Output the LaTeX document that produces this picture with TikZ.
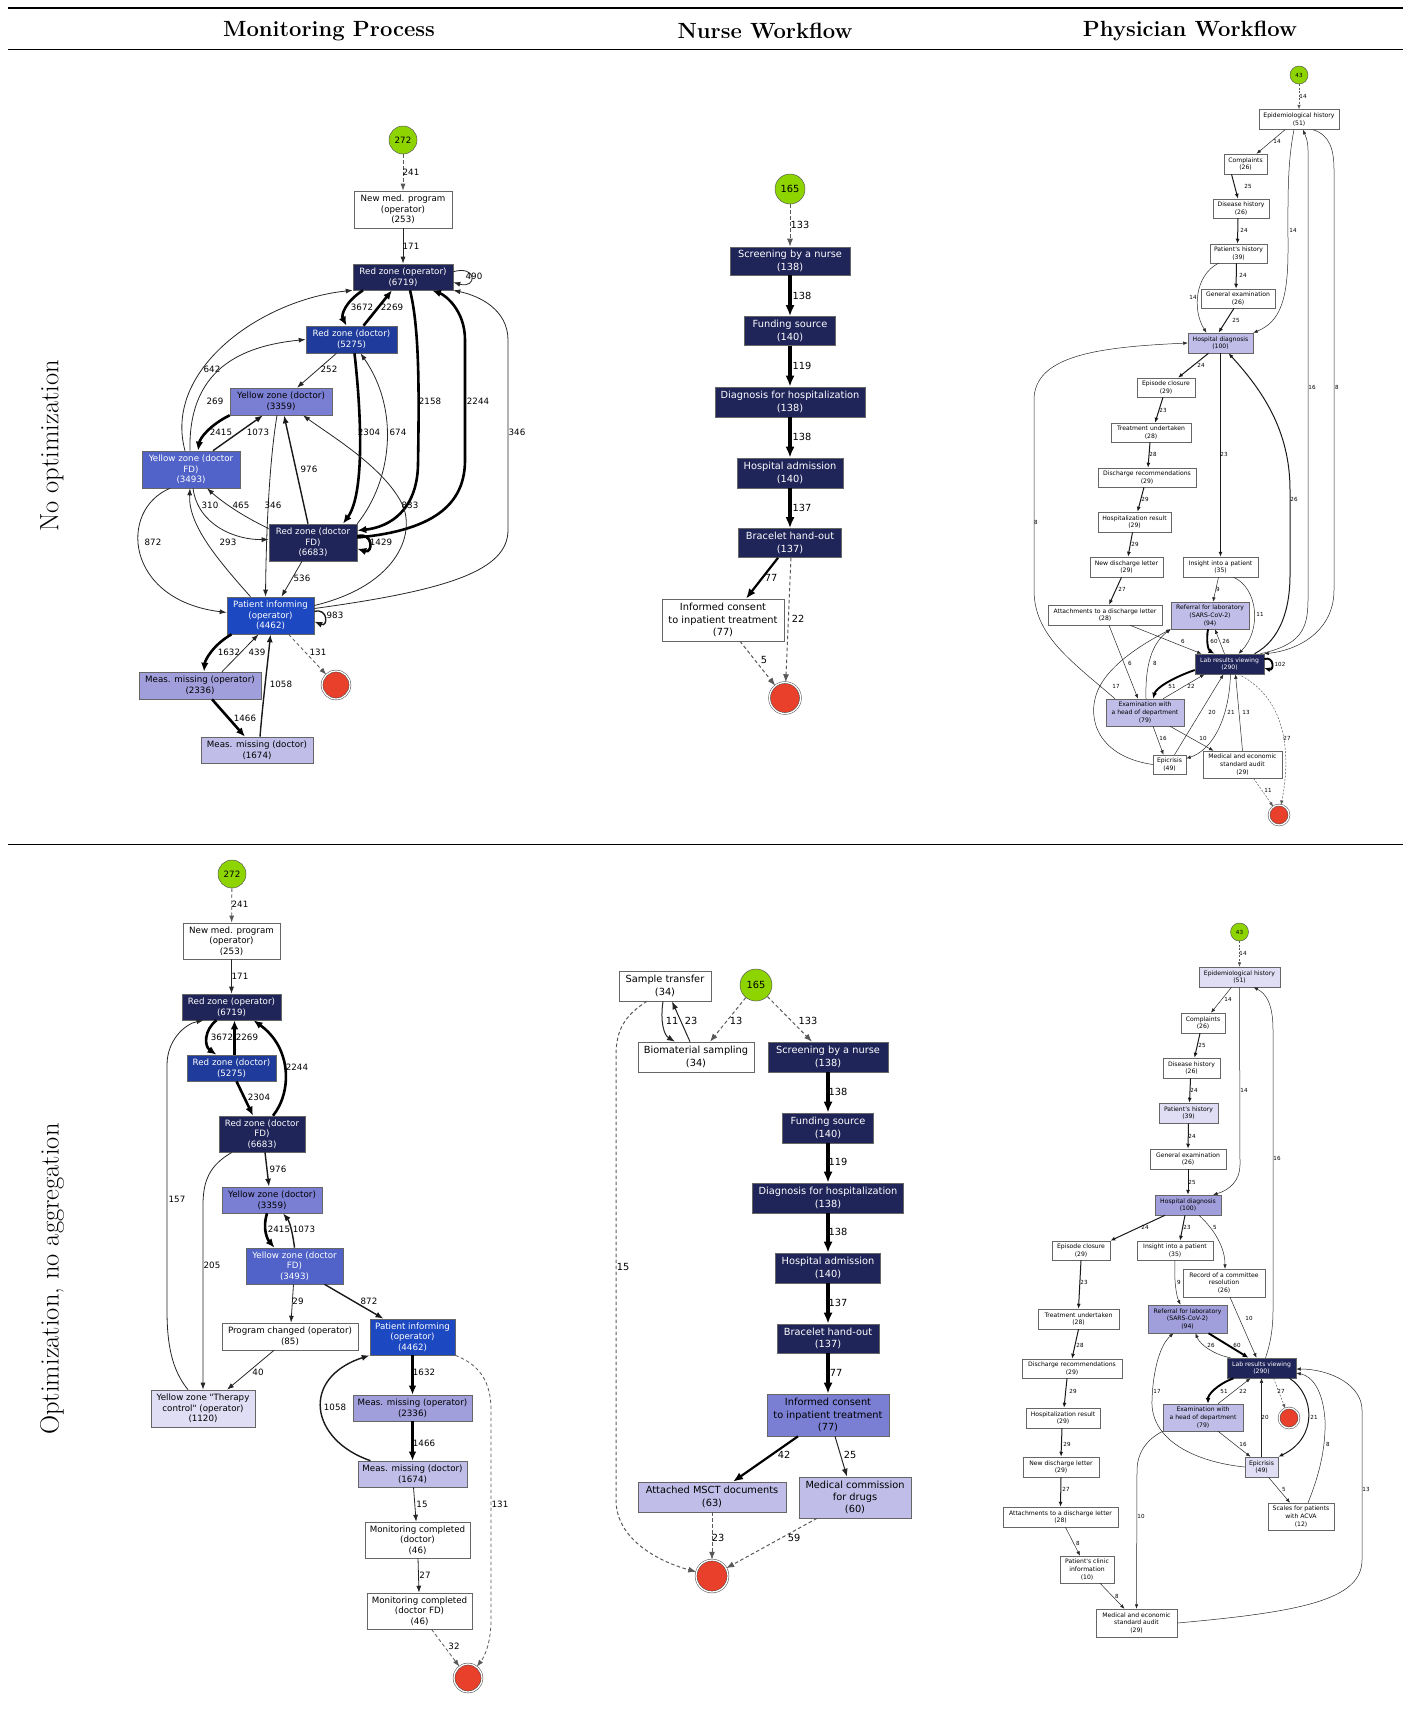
\documentclass[tikz,border=0pt]{standalone}
\usepackage{fontspec}
\newfontfamily\dvsans{DejaVu Sans}
\usetikzlibrary{arrows.meta}
\definecolor{cnavy}{HTML}{1F2459}
\definecolor{cblue}{HTML}{1F3C9C}
\definecolor{cpat}{HTML}{1C48C2}
\definecolor{cyfd}{HTML}{5163C9}
\definecolor{cyd}{HTML}{7B7FD3}
\definecolor{cmo}{HTML}{A09FDB}
\definecolor{cmd}{HTML}{C0BEE8}
\definecolor{cli}{HTML}{E0DEF4}
\definecolor{cgo}{HTML}{8ED400}
\definecolor{cend}{HTML}{E8402A}
\newcommand{\monfont}{\dvsans\fontsize{8.7}{10.6}\selectfont}
\newcommand{\nurfont}{\dvsans\fontsize{9.8}{12.4}\selectfont}
\newcommand{\phyfont}{\dvsans\fontsize{6.1}{7.8}\selectfont}
\newcommand{\phylab}{\dvsans\fontsize{5.6}{6.5}\selectfont}
\tikzset{
  act/.style={rectangle, draw=gray!80!black, line width=0.6pt, inner sep=0pt, align=center},
  mact/.style={act, font=\monfont},
  nact/.style={act, font=\nurfont},
  pact/.style={act, font=\phyfont, line width=0.5pt},
  sz/.style 2 args={minimum width=#1, minimum height=#2},
  f0/.style={fill=white},
  f1/.style={fill=cli},
  f2/.style={fill=cmd},
  f3/.style={fill=cmo},
  f4/.style={fill=cyd},
  f5/.style={fill=cyfd, text=white},
  f6/.style={fill=cpat, text=white},
  f7/.style={fill=cblue, text=white},
  f8/.style={fill=cnavy, text=white},
  st/.style={circle, draw=gray!70!black, line width=0.5pt, fill=cgo, inner sep=0pt, minimum size=#1},
  st/.default=28,
  en/.style={circle, draw=gray!60!black, line width=0.5pt, double=white, double distance=1.3pt, fill=cend, inner sep=0pt, minimum size=#1},
  en/.default=28,
  ml/.style={font=\monfont, inner sep=0.5pt},
  nl/.style={font=\nurfont, inner sep=0.5pt},
  pl/.style={font=\phylab, inner sep=0.3pt},
  ed/.style={->, draw=black!85, line width=0.8pt, >={Latex[length=7pt,width=5pt]}},
  edm/.style={->, draw=black!90, line width=1.4pt, >={Latex[length=8pt,width=6pt]}},
  edt/.style={->, draw=black, line width=2.6pt, >={Latex[length=9pt,width=7.5pt]}},
  ned/.style={->, draw=black!85, line width=1pt, >={Latex[length=8pt,width=6pt]}},
  nem/.style={->, draw=black, line width=2.2pt, >={Latex[length=10pt,width=8pt]}},
  net/.style={->, draw=black, line width=3.4pt, >={Latex[length=11pt,width=9pt]}},
  pe/.style={->, draw=black!85, line width=0.5pt, >={Latex[length=4.5pt,width=3.5pt]}},
  pem/.style={->, draw=black!90, line width=1pt, >={Latex[length=5pt,width=4pt]}},
  pet/.style={->, draw=black, line width=1.9pt, >={Latex[length=6pt,width=5pt]}},
  dsh/.style={draw=black!65, dash pattern=on 3.5pt off 2.5pt},
  pdsh/.style={draw=black!65, dash pattern=on 2pt off 1.5pt},
  hd/.style={font=\fontsize{22}{26}\selectfont\bfseries},
  rowlab/.style={font=\fontsize{26.5}{30}\selectfont, rotate=90}
}
\begin{document}
\begin{tikzpicture}[x=1pt,y=-1pt]
  \useasboundingbox (0,0) rectangle (1410,1713);
  % Table rules and headings
  \draw[line width=1.5pt] (8,8) -- (1403,8);
  \draw[line width=0.8pt] (8,49) -- (1403,49);
  \draw[line width=0.8pt] (8,844) -- (1403,844);
  \node[hd] (hmon) at (329,31) {Monitoring Process};
  \node[hd] (hnur) at (765,31) {Nurse Workflow};
  \node[hd] (hphy) at (1190,31) {Physician Workflow};
  \node[rowlab] (rnone) at (52,446) {No optimization};
  \node[rowlab] (ropt) at (52,1279) {Optimization, no aggregation};

  % Monitoring process, no optimization
  \node[st, font=\monfont] (A0) at (403,140) {272};
  \node[mact,f0,sz={98}{37}] (A1) at (403,209.5) {New med. program\\(operator)\\(253)};
  \node[mact,f8,sz={100}{26}] (A2) at (403,277) {Red zone (operator)\\(6719)};
  \node[mact,f7,sz={91}{27}] (A3) at (351.5,339.5) {Red zone (doctor)\\(5275)};
  \node[mact,f4,sz={102}{27}] (A4) at (281,401.5) {Yellow zone (doctor)\\(3359)};
  \node[mact,f5,sz={98}{37}] (A5) at (191,469.5) {Yellow zone (doctor\\FD)\\(3493)};
  \node[mact,f8,sz={88}{37}] (A6) at (313,542.5) {Red zone (doctor\\FD)\\(6683)};
  \node[mact,f6,sz={87}{37}] (A7) at (270.5,615.5) {Patient informing\\(operator)\\(4462)};
  \node[mact,f3,sz={122}{27}] (A8) at (200,685.5) {Meas. missing (operator)\\(2336)};
  \node[mact,f2,sz={112}{26}] (A9) at (257,750) {Meas. missing (doctor)\\(1674)};
  \node[en] (A10) at (336,685) {};
  \draw[ed,dsh] (A0) -- (A1) node[ml] (lA0A1) at (411,172) {241};
  \draw[ed] (A1) -- (A2) node[ml] (lA1A2) at (411,246) {171};
  \draw[ed] (A2.6) .. controls +(24,-7) and +(24,7) .. (A2.-6) node[ml] (lA2A2) at (474,276) {490};
  \draw[edt] ([xshift=-40]A2.south) .. controls (345,302) and (341,315) .. ([xshift=-5]A3.north) node[ml] (lA2A3) at (362,307) {3672};
  \draw[edt] ([xshift=12]A3.north) -- ([xshift=-11]A2.south) node[ml] (lA3A2) at (392,307) {2269};
  \draw[edt] ([xshift=7]A2.south) .. controls (420,330) and (419,400) .. (418,465) .. controls (417,510) and (390,527) .. ([yshift=12]A6.east) node[ml] (lA2A6) at (430,401) {2158};
  \draw[edt] ([yshift=5]A6.east) .. controls (440,530) and (465,500) .. (465,460) -- (465,340) .. controls (465,310) and (445,295) .. ([xshift=29]A2.south) node[ml] (lA6A2) at (478,401) {2244};
  \draw[ed] ([xshift=-6]A5.north) .. controls (163,370) and (260,300) .. (A2.south west) node[ml] (lA5A2) at (212,369) {642};
  \draw[ed] ([xshift=-1]A5.north) .. controls (188,370) and (240,346) .. (A3.west) node[ml] (lA5A3) at (215,401) {269};
  \draw[ed] ([xshift=-15]A3.south) -- ([xshift=16]A4.north) node[ml] (lA3A4) at (329,369) {252};
  \draw[edt] (A4.south west) .. controls (210,425) and (200,438) .. ([xshift=7]A5.north) node[ml] (lA4A5) at (221,432) {2415};
  \draw[edm] ([xshift=22]A5.north) -- ([xshift=-18]A4.south) node[ml] (lA5A4) at (258,432) {1073};
  \draw[edt] ([xshift=3]A3.south) .. controls (362,420) and (364,495) .. ([xshift=30]A6.north) node[ml] (lA3A6) at (369,432) {2304};
  \draw[ed] (A6.north east) .. controls (392,480) and (400,410) .. ([xshift=9]A3.south) node[ml] (lA6A3) at (398,432) {674};
  \draw[edm] ([xshift=-5]A6.north) -- ([xshift=3]A4.south) node[ml] (lA6A4) at (309,469) {976};
  \draw[ed] ([yshift=10]A7.east) .. controls (400,585) and (418,530) .. (400,500) .. controls (380,465) and (330,435) .. ([xshift=22]A4.south) node[ml] (lA7A4) at (410,505) {833};
  \draw[ed] ([xshift=-4]A4.south) .. controls (268,470) and (266,550) .. ([xshift=-5]A7.north) node[ml] (lA4A7) at (273,505) {346};
  \draw[ed] ([yshift=7]A7.east) .. controls (450,590) and (508,570) .. (508,530) -- (508,340) .. controls (508,310) and (480,296) .. (A2.south east) node[ml] (lA7A2) at (517,432) {346};
  \draw[ed] ([xshift=2]A5.south) .. controls (198,525) and (235,540) .. ([yshift=3]A6.west) node[ml] (lA5A6) at (210,505) {310};
  \draw[ed] ([xshift=-20]A7.north) .. controls (218,560) and (188,525) .. ([xshift=-1]A5.south) node[ml] (lA7A5) at (228,542) {293};
  \draw[ed] ([yshift=14]A6.west) .. controls (240,515) and (220,500) .. ([xshift=16]A5.south) node[ml] (lA6A5) at (241,505) {465};
  \draw[ed] ([xshift=-21]A5.south) .. controls (118,510) and (125,600) .. ([yshift=3]A7.west) node[ml] (lA5A7) at (153,542) {872};
  \draw[edt] (A6.8) .. controls +(16,-5) and +(16,5) .. (A6.-8) node[ml] (lA6A6) at (381,542) {1429};
  \draw[ed] ([xshift=-11]A6.south) -- ([xshift=11]A7.north) node[ml] (lA6A7) at (302,578) {536};
  \draw[edm] ([yshift=4]A7.east) .. controls +(14,-4) and +(14,6) .. ([yshift=-6]A7.east) node[ml] (lA7A7) at (335,615) {983};
  \draw[edt] ([xshift=-39]A7.south) .. controls (213,645) and (205,660) .. ([xshift=4]A8.north) node[ml] (lA7A8) at (229,652) {1632};
  \draw[ed] ([xshift=22]A8.north) -- ([xshift=-12]A7.south) node[ml] (lA8A7) at (257,652) {439};
  \draw[edt] ([xshift=12]A8.south) -- ([xshift=-12]A9.north) node[ml] (lA8A9) at (245,718) {1466};
  \draw[edm] ([xshift=3]A9.north) .. controls (263,700) and (268,660) .. (A7.south) node[ml] (lA9A7) at (281,684) {1058};
  \draw[ed,dsh] ([xshift=18]A7.south) -- (A10) node[ml] (lA7A10) at (318,652) {131};

  % Nurse workflow, no optimization
  \node[st=30, font=\nurfont] (B0) at (790,189) {165};
  \node[nact,f8,sz={120}{28}] (B1) at (790,261) {Screening by a nurse\\(138)};
  \node[nact,f8,sz={91}{29}] (B2) at (790,331) {Funding source\\(140)};
  \node[nact,f8,sz={150}{30}] (B3) at (790,402) {Diagnosis for hospitalization\\(138)};
  \node[nact,f8,sz={106}{30}] (B4) at (790,473) {Hospital admission\\(140)};
  \node[nact,f8,sz={103}{29}] (B5) at (790,543) {Bracelet hand-out\\(137)};
  \node[nact,f0,sz={122}{42}] (B6) at (723,620) {Informed consent\\to inpatient treatment\\(77)};
  \node[en=31] (B7) at (785,698) {};
  \draw[ned,dsh] (B0) -- (B1) node[nl] (lB0B1) at (800,225) {133};
  \draw[net] (B1) -- (B2) node[nl] (lB1B2) at (802,296) {138};
  \draw[net] (B2) -- (B3) node[nl] (lB2B3) at (802,366) {119};
  \draw[net] (B3) -- (B4) node[nl] (lB3B4) at (802,437) {138};
  \draw[net] (B4) -- (B5) node[nl] (lB4B5) at (802,508) {137};
  \draw[nem] ([xshift=-12]B5.south) -- ([xshift=23]B6.north) node[nl] (lB5B6) at (771,578) {77};
  \draw[ned,dsh] ([xshift=1]B5.south) -- (B7) node[nl] (lB5B7) at (798,619) {22};
  \draw[ned,dsh] ([xshift=17]B6.south) -- (B7) node[nl] (lB6B7) at (764,660) {5};

  % Physician workflow, no optimization
  \node[st=18, font=\phylab] (C0) at (1299,75) {43};
  \node[pact,f0,sz={80}{20}] (C1) at (1299,119.5) {Epidemiological history\\(51)};
  \node[pact,f0,sz={43}{20}] (C2) at (1245.5,164) {Complaints\\(26)};
  \node[pact,f0,sz={56}{19}] (C3) at (1241,208.5) {Disease history\\(26)};
  \node[pact,f0,sz={57}{19}] (C4) at (1238.5,253.5) {Patient's history\\(39)};
  \node[pact,f0,sz={74}{19}] (C5) at (1238,298.5) {General examination\\(26)};
  \node[pact,f2,sz={65}{20}] (C6) at (1220.5,343) {Hospital diagnosis\\(100)};
  \node[pact,f0,sz={58}{19}] (C7) at (1166,387.5) {Episode closure\\(29)};
  \node[pact,f0,sz={80}{19}] (C8) at (1151,432.5) {Treatment undertaken\\(28)};
  \node[pact,f0,sz={98}{19}] (C9) at (1147,477.5) {Discharge recommendations\\(29)};
  \node[pact,f0,sz={73}{20}] (C10) at (1134.5,522) {Hospitalization result\\(29)};
  \node[pact,f0,sz={73}{20}] (C11) at (1126.5,567) {New discharge letter\\(29)};
  \node[pact,f0,sz={75}{20}] (C12) at (1220.5,567) {Insight into a patient\\(35)};
  \node[pact,f0,sz={114}{20}] (C13) at (1105,615) {Attachments to a discharge letter\\(28)};
  \node[pact,f2,sz={78}{27}] (C14) at (1210,615.5) {Referral for laboratory\\(SARS-CoV-2)\\(94)};
  \node[pact,f8,sz={69}{20}] (C15) at (1229.5,664) {Lab results viewing\\(290)};
  \node[pact,f2,sz={78}{27}] (C16) at (1145,712.5) {Examination with\\a head of department\\(79)};
  \node[pact,f0,sz={33}{19}] (C17) at (1169.5,764.5) {Epicrisis\\(49)};
  \node[pact,f0,sz={79}{27}] (C18) at (1242.5,764.5) {Medical and economic\\standard audit\\(29)};
  \node[en=20] (C19) at (1279,815) {};
  \draw[pe,pdsh] (C0) -- (C1) node[pl] (lC0C1) at (1303,96) {14};
  \draw[pe] ([xshift=-14]C1.south) -- ([xshift=11]C2.north) node[pl] (lC1C2) at (1277,141) {14};
  \draw[pe] ([xshift=-5]C1.south) .. controls (1287,165) and (1288,200) .. (1288,250) .. controls (1288,300) and (1280,322) .. (C6.north east) node[pl] (lC1C6) at (1293,230) {14};
  \draw[pe] ([xshift=-4]C15.north east) .. controls (1300,645) and (1308,630) .. (1308,600) -- (1308,150) .. controls (1308,140) and (1305,135) .. ([xshift=4]C1.south) node[pl] (lC15C1) at (1312,387) {16};
  \draw[pe] ([xshift=14]C1.south) .. controls (1330,135) and (1334,150) .. (1334,170) -- (1334,590) .. controls (1334,630) and (1300,650) .. (C15.north east) node[pl] (lC1C15) at (1337,387) {8};
  \draw[pem] ([xshift=25]C15.north) .. controls (1280,640) and (1290,610) .. (1290,575) -- (1290,490) .. controls (1290,430) and (1262,390) .. ([xshift=8]C6.south) node[pl] (lC15C6) at (1294,499) {26};
  \draw[pem] ([xshift=-14]C2.south) -- ([xshift=-3]C3.north) node[pl] (lC2C3) at (1248,186) {25};
  \draw[pem] ([xshift=-3]C3.south) -- ([xshift=-1]C4.north) node[pl] (lC3C4) at (1244,230) {24};
  \draw[pem] ([xshift=-2]C4.south) -- ([xshift=-2]C5.north) node[pl] (lC4C5) at (1243,275) {24};
  \draw[pem] ([xshift=-4]C5.south) -- ([xshift=-2]C6.north) node[pl] (lC5C6) at (1236,320) {25};
  \draw[pe] ([xshift=-20]C4.south) .. controls (1195,275) and (1192,310) .. ([xshift=-14]C6.north) node[pl] (lC4C6) at (1193,297) {14};
  \draw[pem] ([xshift=-12]C6.south) -- ([xshift=12]C7.north) node[pl] (lC6C7) at (1201,365) {24};
  \draw[pem] (C6.south) -- (C12.north) node[pl] (lC6C12) at (1224,454) {23};
  \draw[pem] ([xshift=-3]C7.south) -- ([xshift=4]C8.north) node[pl] (lC7C8) at (1163,410) {23};
  \draw[pem] ([xshift=-1]C8.south) -- ([xshift=1]C9.north) node[pl] (lC8C9) at (1153,454) {28};
  \draw[pem] ([xshift=-3]C9.south) -- ([xshift=3]C10.north) node[pl] (lC9C10) at (1145,499) {29};
  \draw[pem] ([xshift=-2]C10.south) -- ([xshift=1.5]C11.north) node[pl] (lC10C11) at (1135,544) {29};
  \draw[pem] ([xshift=-5]C11.south) -- ([xshift=4]C13.north) node[pl] (lC11C13) at (1122,589) {27};
  \draw[pe] ([xshift=-2]C12.south) -- ([xshift=3]C14.north) node[pl] (lC12C14) at (1218,589) {9};
  \draw[pe] ([xshift=13]C12.south) .. controls (1258,588) and (1262,630) .. ([xshift=9]C15.north) node[pl] (lC12C15) at (1260,614) {11};
  \draw[pe] ([xshift=-30]C16.north) .. controls (1070,660) and (1034,635) .. (1034,590) -- (1034,400) .. controls (1034,355) and (1100,347) .. (C6.west) node[pl] (lC16C6) at (1036,522) {8};
  \draw[pe] ([xshift=25]C13.south) -- ([xshift=-28]C15.north) node[pl] (lC13C15) at (1183,641) {6};
  \draw[pe] ([xshift=4]C13.south) -- ([xshift=-7]C16.north) node[pl] (lC13C16) at (1130,663) {6};
  \draw[pe] ([xshift=1]C16.north) .. controls (1145,665) and (1152,643) .. (C14.south west) node[pl] (lC16C14) at (1155,663) {8};
  \draw[pe] (C17.west) .. controls (1100,757) and (1085,720) .. (1098,690) .. controls (1110,662) and (1150,640) .. (C14.south west) node[pl] (lC17C14) at (1116,686) {17};
  \draw[pet] ([xshift=-2]C14.south) .. controls (1206,640) and (1208,650) .. ([xshift=-15]C15.north) node[pl] (lC14C15) at (1214,641) {60};
  \draw[pe] ([xshift=-5]C15.north) -- ([xshift=5]C14.south) node[pl] (lC15C14) at (1226,641) {26};
  \draw[pet] ([yshift=5]C15.east) .. controls +(10,-3) and +(10,3) .. ([yshift=-4]C15.east) node[pl] (lC15C15) at (1280,664) {102};
  \draw[pet] ([yshift=-6]C15.west) .. controls (1172,678) and (1156,688) .. ([xshift=8]C16.north) node[pl] (lC15C16) at (1172,686) {51};
  \draw[pe] ([xshift=18]C16.north) -- ([xshift=-25]C15.south) node[pl] (lC16C15) at (1191,686) {22};
  \draw[pe] ([xshift=5]C17.north) -- ([xshift=-6]C15.south) node[pl] (lC17C15) at (1212,712) {20};
  \draw[pe] ([xshift=1]C15.south) .. controls (1229,720) and (1212,750) .. ([yshift=6]C17.east) node[pl] (lC15C17) at (1231,712) {21};
  \draw[pe] (C18.north) -- ([xshift=6]C15.south) node[pl] (lC18C15) at (1246,712) {13};
  \draw[pe] ([xshift=8]C16.south) -- ([xshift=-6]C17.north) node[pl] (lC16C17) at (1163,738) {16};
  \draw[pe] ([xshift=25]C16.south) -- ([xshift=-29]C18.north) node[pl] (lC16C18) at (1203,738) {10};
  \draw[pe,pdsh] ([xshift=9]C15.south) .. controls (1290,700) and (1290,760) .. (C19) node[pl] (lC15C19) at (1287,738) {27};
  \draw[pe,pdsh] ([xshift=11]C18.south) -- (C19) node[pl] (lC18C19) at (1268,790) {11};

  % Monitoring process, optimization
  \node[st, font=\monfont] (D0) at (232,874) {272};
  \node[mact,f0,sz={97}{36}] (D1) at (231.5,941) {New med. program\\(operator)\\(253)};
  \node[mact,f8,sz={99}{26}] (D2) at (231.5,1007) {Red zone (operator)\\(6719)};
  \node[mact,f7,sz={89}{26}] (D3) at (231.5,1068) {Red zone (doctor)\\(5275)};
  \node[mact,f8,sz={86}{36}] (D4) at (262,1134) {Red zone (doctor\\FD)\\(6683)};
  \node[mact,f4,sz={100}{26}] (D5) at (272,1200) {Yellow zone (doctor)\\(3359)};
  \node[mact,f5,sz={97}{36}] (D6) at (294.5,1266) {Yellow zone (doctor\\FD)\\(3493)};
  \node[mact,f0,sz={136}{27}] (D7) at (290,1336.5) {Program changed (operator)\\(85)};
  \node[mact,f6,sz={85}{36}] (D8) at (412.5,1337) {Patient informing\\(operator)\\(4462)};
  \node[mact,f1,sz={104}{37}] (D9) at (203,1408.5) {Yellow zone "Therapy\\control" (operator)\\(1120)};
  \node[mact,f3,sz={119}{26}] (D10) at (412.5,1408) {Meas. missing (operator)\\(2336)};
  \node[mact,f2,sz={109}{26}] (D11) at (412.5,1474) {Meas. missing (doctor)\\(1674)};
  \node[mact,f0,sz={105}{36}] (D12) at (417.5,1540) {Monitoring completed\\(doctor)\\(46)};
  \node[mact,f0,sz={105}{36}] (D13) at (419.5,1611) {Monitoring completed\\(doctor FD)\\(46)};
  \node[en] (D14) at (468,1678) {};
  \draw[ed,dsh] (D0) -- (D1) node[ml] (lD0D1) at (240,904) {241};
  \draw[ed] (D1) -- (D2) node[ml] (lD1D2) at (240,976) {171};
  \draw[edt] ([xshift=-15]D2.south) .. controls (204,1030) and (204,1046) .. ([xshift=-15]D3.north) node[ml] (lD2D3) at (222,1037) {3672};
  \draw[edt] ([xshift=3]D3.north) -- ([xshift=3]D2.south) node[ml] (lD3D2) at (247,1037) {2269};
  \draw[edt] ([xshift=5]D3.south) -- ([xshift=-9]D4.north) node[ml] (lD3D4) at (259,1097) {2304};
  \draw[edt] ([xshift=11]D4.north) .. controls (292,1092) and (292,1048) .. ([xshift=22]D2.south) node[ml] (lD4D2) at (297,1067) {2244};
  \draw[ed] ([xshift=-15]D9.north) .. controls (172,1370) and (167,1345) .. (167,1310) -- (167,1065) .. controls (167,1040) and (185,1024) .. ([xshift=-28]D2.south) node[ml] (lD9D2) at (177,1199) {157};
  \draw[ed] ([xshift=-30]D4.south) .. controls (210,1165) and (203,1180) .. (203,1205) -- (D9.north) node[ml] (lD4D9) at (212,1265) {205};
  \draw[edm] ([xshift=3]D4.south) -- ([xshift=-3]D5.north) node[ml] (lD4D5) at (278,1169) {976};
  \draw[edt] ([xshift=-5]D5.south) .. controls (262,1230) and (268,1240) .. ([xshift=-20]D6.north) node[ml] (lD5D6) at (279,1229) {2415};
  \draw[edm] (D6.north) .. controls (293,1235) and (290,1222) .. ([xshift=11]D5.south) node[ml] (lD6D5) at (304,1229) {1073};
  \draw[ed] ([xshift=-1]D6.south) -- ([xshift=1]D7.north) node[ml] (lD6D7) at (298,1301) {29};
  \draw[edm] ([xshift=30]D6.south) -- ([xshift=-29]D8.north) node[ml] (lD6D8) at (369,1301) {872};
  \draw[ed] ([xshift=-16]D7.south) -- ([xshift=24]D9.north) node[ml] (lD7D9) at (258,1372) {40};
  \draw[edt] (D8) -- (D10) node[ml] (lD8D10) at (424,1372) {1632};
  \draw[edt] (D10) -- (D11) node[ml] (lD10D11) at (424,1443) {1466};
  \draw[edm] ([xshift=-42]D11.north) .. controls (310,1440) and (300,1378) .. (D8.south west) node[ml] (lD11D8) at (335,1407) {1058};
  \draw[ed] (D11) -- (D12) node[ml] (lD11D12) at (422,1504) {15};
  \draw[ed] (D12) -- (D13) node[ml] (lD12D13) at (425,1575) {27};
  \draw[ed,dsh] ([xshift=12]D13.south) -- (D14) node[ml] (lD13D14) at (454,1646) {32};
  \draw[ed,dsh] (D8.south east) .. controls (480,1365) and (491,1382) .. (491,1410) -- (491,1620) .. controls (491,1642) and (485,1656) .. (D14) node[ml] (lD8D14) at (500,1504) {131};

  % Nurse workflow, optimization
  \node[st=32, font=\nurfont] (E0) at (756,985) {165};
  \node[nact,f0,sz={92}{30}] (E1) at (665,986) {Sample transfer\\(34)};
  \node[nact,f0,sz={116}{30}] (E2) at (696,1057) {Biomaterial sampling\\(34)};
  \node[nact,f8,sz={120}{30}] (E3) at (828,1057) {Screening by a nurse\\(138)};
  \node[nact,f8,sz={91}{30}] (E4) at (828,1128) {Funding source\\(140)};
  \node[nact,f8,sz={151}{30}] (E5) at (828,1198) {Diagnosis for hospitalization\\(138)};
  \node[nact,f8,sz={105}{30}] (E6) at (828,1268) {Hospital admission\\(140)};
  \node[nact,f8,sz={102}{29}] (E7) at (828,1338.5) {Bracelet hand-out\\(137)};
  \node[nact,f4,sz={122}{42}] (E8) at (828,1415) {Informed consent\\to inpatient treatment\\(77)};
  \node[nact,f2,sz={148}{30}] (E9) at (712,1497) {Attached MSCT documents\\(63)};
  \node[nact,f2,sz={112}{41}] (E10) at (855,1497.5) {Medical commission\\for drugs\\(60)};
  \node[en=32] (E11) at (712,1576) {};
  \draw[ned] ([xshift=-2]E1.south) .. controls (660,1022) and (664,1035) .. ([xshift=-21]E2.north) node[nl] (lE1E2) at (672,1021) {11};
  \draw[ned] ([xshift=-6]E2.north) -- ([xshift=7]E1.south) node[nl] (lE2E1) at (691,1021) {23};
  \draw[ned,dsh] (E0) -- ([xshift=14]E2.north) node[nl] (lE0E2) at (736,1021) {13};
  \draw[ned,dsh] (E0) -- ([xshift=-16]E3.north) node[nl] (lE0E3) at (808,1021) {133};
  \draw[ned,dsh] ([xshift=-18]E1.south) .. controls (625,1015) and (616,1030) .. (616,1055) -- (616,1500) .. controls (616,1540) and (660,1562) .. (E11) node[nl] (lE1E11) at (623,1267) {15};
  \draw[net] (E3) -- (E4) node[nl] (lE3E4) at (838,1092) {138};
  \draw[net] (E4) -- (E5) node[nl] (lE4E5) at (838,1162) {119};
  \draw[net] (E5) -- (E6) node[nl] (lE5E6) at (838,1232) {138};
  \draw[net] (E6) -- (E7) node[nl] (lE6E7) at (838,1303) {137};
  \draw[net] (E7) -- (E8) node[nl] (lE7E8) at (836,1373) {77};
  \draw[nem] ([xshift=-30]E8.south) -- ([xshift=21]E9.north) node[nl] (lE8E9) at (784,1455) {42};
  \draw[ned] ([xshift=7]E8.south) -- ([xshift=-8]E10.north) node[nl] (lE8E10) at (850,1455) {25};
  \draw[ned,dsh] (E9) -- (E11) node[nl] (lE9E11) at (718,1538) {23};
  \draw[ned,dsh] ([xshift=-38]E10.south) -- (E11) node[nl] (lE10E11) at (794,1538) {59};

  % Physician workflow, optimization
  \node[st=18, font=\phylab] (F0) at (1239.5,932) {43};
  \node[pact,f1,sz={81}{20}] (F1) at (1239.5,977) {Epidemiological history\\(51)};
  \node[pact,f0,sz={44}{20}] (F2) at (1203,1023) {Complaints\\(26)};
  \node[pact,f0,sz={57}{20}] (F3) at (1191.5,1068) {Disease history\\(26)};
  \node[pact,f1,sz={59}{20}] (F4) at (1188.5,1113) {Patient's history\\(39)};
  \node[pact,f0,sz={76}{20}] (F5) at (1188,1159) {General examination\\(26)};
  \node[pact,f3,sz={66}{20}] (F6) at (1188,1205) {Hospital diagnosis\\(100)};
  \node[pact,f0,sz={58}{19}] (F7) at (1081,1250.5) {Episode closure\\(29)};
  \node[pact,f0,sz={76}{19}] (F8) at (1175,1250.5) {Insight into a patient\\(35)};
  \node[pact,f0,sz={82}{28}] (F9) at (1224,1283) {Record of a committee\\resolution\\(26)};
  \node[pact,f0,sz={81}{20}] (F10) at (1078.5,1319) {Treatment undertaken\\(28)};
  \node[pact,f3,sz={79}{28}] (F11) at (1187.5,1319) {Referral for laboratory\\(SARS-CoV-2)\\(94)};
  \node[pact,f0,sz={100}{19}] (F12) at (1072,1368.5) {Discharge recommendations\\(29)};
  \node[pact,f8,sz={69}{20}] (F13) at (1261.5,1368) {Lab results viewing\\(290)};
  \node[pact,f0,sz={74}{20}] (F14) at (1063,1418) {Hospitalization result\\(29)};
  \node[pact,f2,sz={80}{27}] (F15) at (1203,1417.5) {Examination with\\a head of department\\(79)};
  \node[en=20] (F16) at (1289,1418) {};
  \node[pact,f0,sz={76}{20}] (F17) at (1061,1467) {New discharge letter\\(29)};
  \node[pact,f1,sz={33}{20}] (F18) at (1261.5,1467) {Epicrisis\\(49)};
  \node[pact,f0,sz={115}{20}] (F19) at (1060.5,1517) {Attachments to a discharge letter\\(28)};
  \node[pact,f0,sz={66}{27}] (F20) at (1301,1516.5) {Scales for patients\\with ACVA\\(12)};
  \node[pact,f0,sz={54}{27}] (F21) at (1087,1569.5) {Patient's clinic\\information\\(10)};
  \node[pact,f0,sz={81}{28}] (F22) at (1136.5,1623) {Medical and economic\\standard audit\\(29)};
  \draw[pe,pdsh] (F0) -- (F1) node[pl] (lF0F1) at (1243,953) {14};
  \draw[pe] ([xshift=-8]F1.south) -- ([xshift=8]F2.north) node[pl] (lF1F2) at (1228,999) {14};
  \draw[pe] (F1.south) -- (1240,1165) .. controls (1240,1180) and (1230,1190) .. ([xshift=25]F6.north) node[pl] (lF1F6) at (1244,1090) {14};
  \draw[pe] ([xshift=4]F13.north) .. controls (1270,1345) and (1273,1330) .. (1273,1310) -- (1273,1030) .. controls (1273,1002) and (1265,993) .. ([xshift=14]F1.south) node[pl] (lF13F1) at (1277,1158) {16};
  \draw[pem] ([xshift=-3]F2.south) -- ([xshift=3]F3.north) node[pl] (lF2F3) at (1202,1045) {25};
  \draw[pem] ([xshift=-1]F3.south) -- ([xshift=1]F4.north) node[pl] (lF3F4) at (1194,1090) {24};
  \draw[pem] (F4.south) -- (F5.north) node[pl] (lF4F5) at (1192,1136) {24};
  \draw[pem] (F5.south) -- (F6.north) node[pl] (lF5F6) at (1192,1182) {25};
  \draw[pem] ([xshift=-23]F6.south) -- (F7.north east) node[pl] (lF6F7) at (1145,1227) {24};
  \draw[pem] ([xshift=-3]F6.south) -- ([xshift=5]F8.north) node[pl] (lF6F8) at (1187,1227) {23};
  \draw[pe] ([xshift=11]F6.south) .. controls (1215,1230) and (1225,1248) .. ([xshift=1]F9.north) node[pl] (lF6F9) at (1215,1227) {5};
  \draw[pem] (F7.south) -- (F10.north) node[pl] (lF7F10) at (1084,1282) {23};
  \draw[pe] (F8.south) .. controls (1174,1280) and (1176,1295) .. ([xshift=-7]F11.north) node[pl] (lF8F11) at (1179,1282) {9};
  \draw[pe] ([xshift=6]F9.south) -- ([xshift=-5]F13.north) node[pl] (lF9F13) at (1249,1318) {10};
  \draw[pem] (F10.south) -- (F12.north) node[pl] (lF10F12) at (1080,1345) {28};
  \draw[pet] ([xshift=21]F11.south) -- ([xshift=-13]F13.north) node[pl] (lF11F13) at (1237,1345) {60};
  \draw[pe] ([xshift=-31]F13.north) .. controls (1215,1355) and (1200,1345) .. ([xshift=8]F11.south) node[pl] (lF13F11) at (1211,1345) {26};
  \draw[pem] ([xshift=-5]F12.south) -- ([xshift=1]F14.north) node[pl] (lF12F14) at (1073,1391) {29};
  \draw[pet] ([xshift=-28]F13.south) .. controls (1216,1385) and (1208,1395) .. ([xshift=5]F15.north) node[pl] (lF13F15) at (1224,1391) {51};
  \draw[pe] ([xshift=15]F15.north) -- ([xshift=-11]F13.south) node[pl] (lF15F13) at (1243,1391) {22};
  \draw[pe,pdsh] ([xshift=12]F13.south) -- (F16) node[pl] (lF13F16) at (1281,1391) {27};
  \draw[pe] (F18.north) -- (F13.south) node[pl] (lF18F13) at (1265,1417) {20};
  \draw[pem] ([xshift=28]F13.south) .. controls (1315,1395) and (1318,1438) .. (F18.north east) node[pl] (lF13F18) at (1314,1417) {21};
  \draw[pe] (F18.west) .. controls (1195,1462) and (1150,1440) .. (1152,1400) .. controls (1153,1370) and (1160,1345) .. ([xshift=-14]F11.south) node[pl] (lF18F11) at (1157,1391) {17};
  \draw[pe] ([xshift=7]F20.north) .. controls (1318,1478) and (1326,1450) .. (1325,1420) .. controls (1323,1390) and (1312,1376) .. ([yshift=-5]F13.east) node[pl] (lF20F13) at (1328,1444) {8};
  \draw[pem] ([xshift=-1]F14.south) -- (F17.north) node[pl] (lF14F17) at (1067,1444) {29};
  \draw[pe] ([xshift=15]F15.south) -- ([xshift=-11]F18.north) node[pl] (lF15F18) at (1243,1444) {16};
  \draw[pe] (F15.south west) .. controls (1145,1440) and (1137,1455) .. (1137,1470) -- (F22.north) node[pl] (lF15F22) at (1141,1516) {10};
  \draw[pe] ([xshift=7]F18.south) -- ([xshift=-11]F20.north) node[pl] (lF18F20) at (1284,1489) {5};
  \draw[pem] (F17.south) -- (F19.north) node[pl] (lF17F19) at (1066,1489) {27};
  \draw[pe] ([xshift=5]F19.south) -- ([xshift=-7]F21.north) node[pl] (lF19F21) at (1078,1543) {8};
  \draw[pe] ([xshift=13]F21.south) -- ([xshift=-12]F22.north) node[pl] (lF21F22) at (1117,1596) {8};
  \draw[pe] (F22.east) .. controls (1300,1612) and (1362,1600) .. (1362,1560) -- (1362,1410) .. controls (1362,1385) and (1330,1369) .. ([yshift=-1]F13.east) node[pl] (lF22F13) at (1366,1489) {13};
\end{tikzpicture}
\end{document}
